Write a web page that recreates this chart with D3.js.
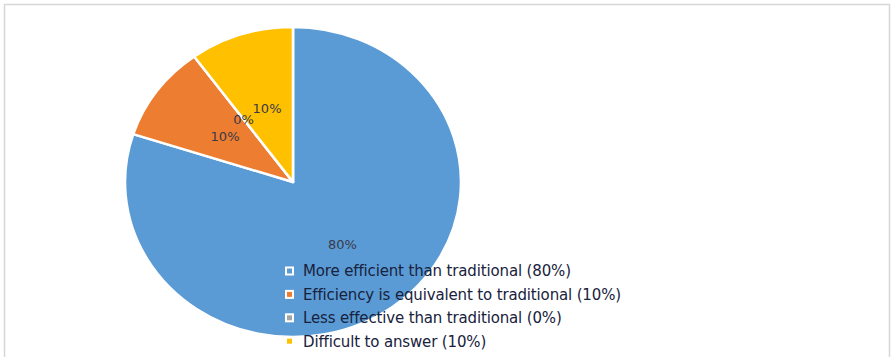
<!DOCTYPE html>
<html>
<head>
<meta charset="utf-8">
<script src="https://cdn.jsdelivr.net/npm/d3@7"></script>
<style>
  html, body { margin: 0; padding: 0; background: #fff; }
  svg { display: block; }
</style>
</head>
<body>
<svg id="chart" width="896" height="357"></svg>
<script>
// Survey answers and their shares (percent)
const categories = [
  "More efficient than traditional",
  "Efficiency is equivalent to traditional",
  "Less effective than traditional",
  "Difficult to answer"
];
const shares = [80, 10, 0, 10];
const sliceColors = ["#5b9bd5", "#ed7d31", "#a5a5a5", "#ffc000"];

const W = 896, H = 357;
const svg = d3.select("#chart");

// Frame around the chart area
svg.append("path")
  .attr("d", `M4.5,${H} V4.5 H889.5 V${H}`)
  .attr("fill", "none")
  .attr("stroke", "#d6d6d6")
  .attr("stroke-width", 1.5);

const data = categories.map((c, i) => ({ name: c, value: shares[i], color: sliceColors[i] }));

// Pie: drawn at radius R, then squashed vertically
const cx = 293, cy = 182, R = 168, Ry = 155;
const pie = d3.pie().value(d => d.value).sort(null);
const arc = d3.arc().innerRadius(0).outerRadius(R);
const arcs = pie(data);

const g = svg.append("g").attr("transform", `translate(${cx},${cy})`);
const slices = g.append("g").attr("transform", `scale(1,${Ry / R})`);

slices.selectAll("path")
  .data(arcs)
  .join("path")
  .attr("d", arc)
  .attr("fill", d => d.data.color)
  .attr("stroke", "#ffffff")
  .attr("stroke-width", 2.6)
  .attr("stroke-linejoin", "round");

// Value labels at the centroid of each slice
g.selectAll("text.val")
  .data(arcs)
  .join("text")
  .attr("class", "val")
  .attr("x", d => arc.centroid(d)[0])
  .attr("y", d => arc.centroid(d)[1] * Ry / R)
  .attr("dy", "0.35em")
  .attr("text-anchor", "middle")
  .attr("font-family", "DejaVu Sans, sans-serif")
  .attr("font-size", 13)
  .attr("fill", "#3a3a48")
  .text(d => d.data.value + "%");

// Legend
const legX = 285, legY = 271, legStep = 23.4;
const leg = svg.append("g");
const rows = leg.selectAll("g")
  .data(data)
  .join("g")
  .attr("transform", (d, i) => `translate(${legX},${legY + i * legStep})`);

rows.append("rect")
  .attr("x", 0).attr("y", -4.5)
  .attr("width", 9).attr("height", 9)
  .attr("fill", "#ffffff");
rows.append("rect")
  .attr("x", 2).attr("y", -2.5)
  .attr("width", 5).attr("height", 5)
  .attr("fill", d => d.color);
rows.append("text")
  .attr("x", 18)
  .attr("y", 0)
  .attr("dy", "0.36em")
  .attr("font-family", "DejaVu Sans, sans-serif")
  .attr("font-size", 15)
  .attr("letter-spacing", -0.15)
  .attr("fill", "#18223d")
  .text(d => `${d.name} (${d.value}%)`);
</script>
</body>
</html>
